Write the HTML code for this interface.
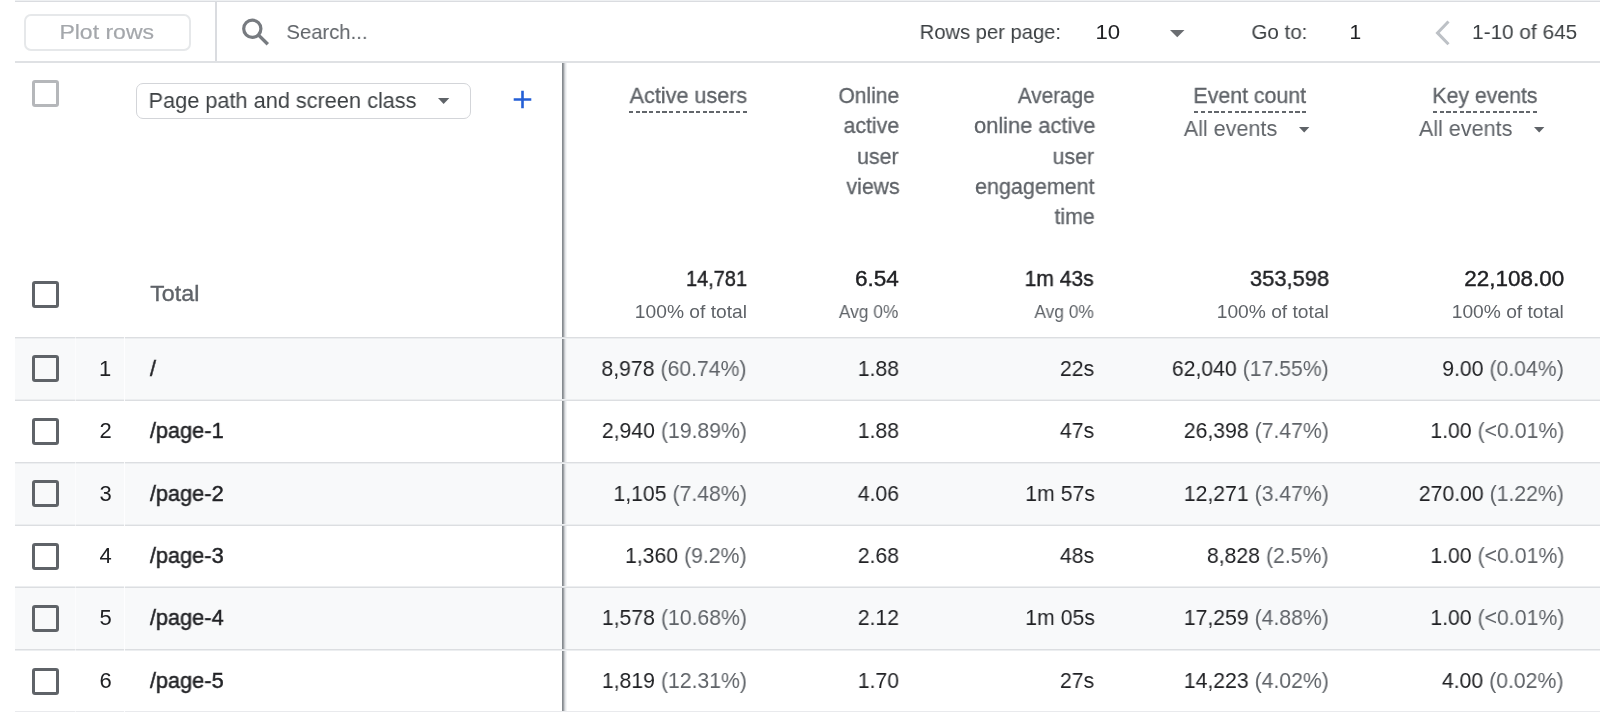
<!DOCTYPE html>
<html><head><meta charset="utf-8"><title>Pages and screens</title><style>
html,body{margin:0;padding:0;background:#fff;}
body{width:1600px;height:712px;position:relative;overflow:hidden;font-family:"Liberation Sans", sans-serif;}
.t{position:absolute;white-space:pre;font-family:"Liberation Sans", sans-serif;will-change:transform;}
.g{color:#5f6368;-webkit-text-stroke:0 !important;}
.bg{position:absolute;left:15px;right:0;background:#f8f9fa;}
.hl{position:absolute;left:15px;right:0;height:1px;z-index:2;}
.cb{position:absolute;width:21px;height:21px;border:3px solid #5f6368;border-radius:3px;box-sizing:content-box;}
.ic{position:absolute;overflow:visible;}
.vs{position:absolute;width:1px;background:#fff;z-index:3;}
#top0{position:absolute;left:15px;right:0;top:0;height:1px;background:#eef0f2;}
#top1{position:absolute;left:15px;right:0;top:1px;height:1px;background:#dadce0;}
#tb{position:absolute;left:15px;right:0;top:61px;height:2px;background:#dfe1e4;}
#vd{position:absolute;left:215px;top:2px;width:2px;height:59px;background:#dadce0;}
#plot{position:absolute;left:24px;top:14px;width:163px;height:33px;border:2px solid #e6e8ea;border-radius:7px;}
#dd{position:absolute;left:136px;top:83px;width:333px;height:34px;border:1px solid #d3d5d9;border-radius:7px;}
#col{position:absolute;left:562px;top:63px;width:5px;height:649px;z-index:1;background:linear-gradient(to right,#858a8f 0 1px,#9da1a5 1px 2px,#c9cbce 2px 3px,#e4e6e9 3px 4px,#f3f4f5 4px 5px);}

.dash{position:absolute;height:2px;}
</style></head><body>
<div id="top0"></div><div id="top1"></div>
<div class='bg' style='top:338px;height:62px'></div><div class='bg' style='top:463px;height:62px'></div><div class='bg' style='top:588px;height:62px'></div><div class='hl' style='top:337px;background:#dcdee1'></div><div class='hl' style='top:400px;background:#dcdee1'></div><div class='hl' style='top:462px;background:#dcdee1'></div><div class='hl' style='top:525px;background:#dcdee1'></div><div class='hl' style='top:587px;background:#dcdee1'></div><div class='hl' style='top:649px;background:#dcdee1'></div><div class='hl' style='top:338px;background:#eceef0'></div><div class='hl' style='top:399px;background:#eceef0'></div><div class='hl' style='top:463px;background:#eceef0'></div><div class='hl' style='top:524px;background:#eceef0'></div><div class='hl' style='top:586px;background:#eceef0'></div><div class='hl' style='top:650px;background:#eceef0'></div><div class='hl' style='top:711px;background:#e9eaed'></div>
<div id="tb"></div><div id="vd"></div>
<div id="plot"></div><div id="dd"></div>
<div id="col"></div>
<div class="dash" style="left:628.9px;width:118.10px;top:111px;background:repeating-linear-gradient(to right,#62666b 0 4.3px,rgba(255,255,255,0) 4.3px 6.694px)"></div>
<div class="dash" style="left:1193.6px;width:112.40px;top:111px;background:repeating-linear-gradient(to right,#62666b 0 4.3px,rgba(255,255,255,0) 4.3px 6.756px)"></div>
<div class="dash" style="left:1433px;width:104.00px;top:111px;background:repeating-linear-gradient(to right,#62666b 0 4.3px,rgba(255,255,255,0) 4.3px 6.647px)"></div>
<div class='vs' style='left:124px;top:337px;height:375px;opacity:.85'></div><div class='vs' style='left:75px;top:337px;height:375px;opacity:.5'></div>
<div class='cb' style='left:31.5px;top:80px;border-color:#b5b7ba'></div><div class='cb' style='left:31.5px;top:281px;border-color:#5f6368'></div><div class='cb' style='left:31.5px;top:355px;border-color:#5f6368'></div><div class='cb' style='left:31.5px;top:418px;border-color:#5f6368'></div><div class='cb' style='left:31.5px;top:480px;border-color:#5f6368'></div><div class='cb' style='left:31.5px;top:543px;border-color:#5f6368'></div><div class='cb' style='left:31.5px;top:605px;border-color:#5f6368'></div><div class='cb' style='left:31.5px;top:668px;border-color:#5f6368'></div>
<svg class='ic' style='left:1169.8px;top:29.8px' width='14.5' height='7.3' viewBox='0 0 14.5 7.3'><path d='M0 0H14.5L7.25 7.3Z' fill='#6a6d71'/></svg><svg class='ic' style='left:437.6px;top:97.8px' width='11.3' height='6' viewBox='0 0 11.3 6'><path d='M0 0H11.3L5.65 6Z' fill='#5f6368'/></svg><svg class='ic' style='left:1298.8px;top:127px' width='10.4' height='5.6' viewBox='0 0 10.4 5.6'><path d='M0 0H10.4L5.2 5.6Z' fill='#5f6368'/></svg><svg class='ic' style='left:1533.6px;top:127px' width='10.4' height='5.6' viewBox='0 0 10.4 5.6'><path d='M0 0H10.4L5.2 5.6Z' fill='#5f6368'/></svg><svg class='ic' style='left:240px;top:16px' width='31' height='31' viewBox='0 0 31 31'><circle cx='12.3' cy='12.8' r='8.6' fill='none' stroke='#777b80' stroke-width='3.2'/><path d='M18.6 19.1L27.8 28.3' stroke='#777b80' stroke-width='3.4'/></svg><svg class='ic' style='left:1433px;top:19px' width='20' height='28' viewBox='0 0 20 28'><path d='M15.5 2.5L4.5 13.9L15.5 25.3' fill='none' stroke='#bdc1c6' stroke-width='3'/></svg><svg class='ic' style='left:512px;top:89px' width='21' height='21' viewBox='0 0 21 21'><path d='M10.5 1.7V19.3M1.7 10.5H19.3' stroke='#245fd6' stroke-width='2.6'/></svg>
<div class='t' style='left:59px;top:21px;font-size:21px;line-height:21px;color:#a4a7ab;-webkit-text-stroke:0.2px #a4a7ab;transform:translateX(0.41px) scaleX(1.0952);transform-origin:0 0;'>Plot rows</div><div class='t' style='left:286px;top:21px;font-size:21px;line-height:21px;color:#5f6368;transform:translateX(0.43px) scaleX(0.9654);transform-origin:0 0;'>Search...</div><div class='t' style='left:919px;top:21px;font-size:21px;line-height:21px;color:#3c4043;transform:translateX(0.68px) scaleX(0.9608);transform-origin:0 0;'>Rows per page:</div><div class='t' style='left:1095px;top:21px;font-size:21px;line-height:21px;color:#202124;transform:translateX(0.49px) scaleX(1.0571);transform-origin:0 0;'>10</div><div class='t' style='left:1251px;top:21px;font-size:21px;line-height:21px;color:#3c4043;transform:translateX(0.42px) scaleX(0.9796);transform-origin:0 0;'>Go to:</div><div class='t' style='left:1349px;top:21px;font-size:21px;line-height:21px;color:#202124;transform:translateX(0.50px) scaleX(1.0000);transform-origin:0 0;'>1</div><div class='t' style='left:1472px;top:21px;font-size:21px;line-height:21px;color:#3c4043;transform:translateX(0.02px) scaleX(0.9903);transform-origin:0 0;'>1-10 of 645</div><div class='t' style='left:148px;top:90px;font-size:22px;line-height:22px;color:#3c4043;transform:translateX(0.53px) scaleX(0.9870);transform-origin:0 0;'>Page path and screen class</div><div class='t' style='left:629px;top:85px;font-size:22px;line-height:22px;color:#5f6368;-webkit-text-stroke:0.3px #5f6368;transform:translateX(0.60px) scaleX(0.9815);transform-origin:0 0;'>Active users</div><div class='t' style='left:838px;top:85px;font-size:22px;line-height:22px;color:#5f6368;-webkit-text-stroke:0.3px #5f6368;transform:translateX(0.44px) scaleX(0.9565);transform-origin:0 0;'>Online</div><div class='t' style='left:843px;top:115px;font-size:22px;line-height:22px;color:#5f6368;-webkit-text-stroke:0.3px #5f6368;transform:translateX(0.55px) scaleX(0.9675);transform-origin:0 0;'>active</div><div class='t' style='left:857px;top:146px;font-size:22px;line-height:22px;color:#5f6368;-webkit-text-stroke:0.3px #5f6368;transform:translateX(0.10px) scaleX(0.9675);transform-origin:0 0;'>user</div><div class='t' style='left:846px;top:176px;font-size:22px;line-height:22px;color:#5f6368;-webkit-text-stroke:0.3px #5f6368;transform:translateX(0.46px) scaleX(0.9675);transform-origin:0 0;'>views</div><div class='t' style='left:1017px;top:85px;font-size:22px;line-height:22px;color:#5f6368;-webkit-text-stroke:0.3px #5f6368;transform:translateX(0.80px) scaleX(0.9432);transform-origin:0 0;'>Average</div><div class='t' style='left:974px;top:115px;font-size:22px;line-height:22px;color:#5f6368;-webkit-text-stroke:0.3px #5f6368;transform:translateX(0.01px) scaleX(0.9933);transform-origin:0 0;'>online active</div><div class='t' style='left:1052px;top:146px;font-size:22px;line-height:22px;color:#5f6368;-webkit-text-stroke:0.3px #5f6368;transform:translateX(0.60px) scaleX(0.9675);transform-origin:0 0;'>user</div><div class='t' style='left:975px;top:176px;font-size:22px;line-height:22px;color:#5f6368;-webkit-text-stroke:0.3px #5f6368;transform:translateX(0.02px) scaleX(0.9769);transform-origin:0 0;'>engagement</div><div class='t' style='left:1054px;top:206px;font-size:22px;line-height:22px;color:#5f6368;-webkit-text-stroke:0.3px #5f6368;transform:translateX(0.53px) scaleX(0.9675);transform-origin:0 0;'>time</div><div class='t' style='left:1193px;top:85px;font-size:22px;line-height:22px;color:#5f6368;-webkit-text-stroke:0.3px #5f6368;transform:translateX(0.36px) scaleX(0.9711);transform-origin:0 0;'>Event count</div><div class='t' style='left:1183px;top:118px;font-size:22px;line-height:22px;color:#5f6368;transform:translateX(0.80px) scaleX(0.9789);transform-origin:0 0;'>All events</div><div class='t' style='left:1432px;top:85px;font-size:22px;line-height:22px;color:#5f6368;-webkit-text-stroke:0.3px #5f6368;transform:translateX(0.37px) scaleX(0.9660);transform-origin:0 0;'>Key events</div><div class='t' style='left:1418px;top:118px;font-size:22px;line-height:22px;color:#5f6368;transform:translateX(0.90px) scaleX(0.9800);transform-origin:0 0;'>All events</div><div class='t' style='left:150px;top:283px;font-size:22px;line-height:22px;color:#5f6368;-webkit-text-stroke:0.35px #5f6368;transform:translateX(0.25px) scaleX(1.0556);transform-origin:0 0;'>Total</div><div class='t' style='left:685px;top:268px;font-size:22px;line-height:22px;color:#202124;-webkit-text-stroke:0.4px #202124;transform:translateX(0.99px) scaleX(0.9077);transform-origin:0 0;'>14,781</div><div class='t' style='left:854px;top:268px;font-size:22px;line-height:22px;color:#202124;-webkit-text-stroke:0.4px #202124;transform:translateX(0.88px) scaleX(1.0244);transform-origin:0 0;'>6.54</div><div class='t' style='left:1024px;top:268px;font-size:22px;line-height:22px;color:#202124;-webkit-text-stroke:0.4px #202124;transform:translateX(0.65px) scaleX(0.9549);transform-origin:0 0;'>1m 43s</div><div class='t' style='left:1249px;top:268px;font-size:22px;line-height:22px;color:#202124;-webkit-text-stroke:0.4px #202124;transform:translateX(0.90px) scaleX(0.9974);transform-origin:0 0;'>353,598</div><div class='t' style='left:1464px;top:268px;font-size:22px;line-height:22px;color:#202124;-webkit-text-stroke:0.4px #202124;transform:translateX(0.28px) scaleX(1.0208);transform-origin:0 0;'>22,108.00</div><div class='t' style='left:634px;top:303px;font-size:18.5px;line-height:18.5px;color:#5f6368;transform:translateX(0.86px) scaleX(1.0377);transform-origin:0 0;'>100% of total</div><div class='t' style='left:838px;top:303px;font-size:18.5px;line-height:18.5px;color:#5f6368;transform:translateX(0.90px) scaleX(0.9365);transform-origin:0 0;'>Avg 0%</div><div class='t' style='left:1034px;top:303px;font-size:18.5px;line-height:18.5px;color:#5f6368;transform:translateX(0.40px) scaleX(0.9365);transform-origin:0 0;'>Avg 0%</div><div class='t' style='left:1216px;top:303px;font-size:18.5px;line-height:18.5px;color:#5f6368;transform:translateX(0.76px) scaleX(1.0377);transform-origin:0 0;'>100% of total</div><div class='t' style='left:1451px;top:303px;font-size:18.5px;line-height:18.5px;color:#5f6368;transform:translateX(0.76px) scaleX(1.0377);transform-origin:0 0;'>100% of total</div><div class='t' style='left:99px;top:358px;font-size:22px;line-height:22px;color:#202124;transform:translateX(0.10px) scaleX(1.0000);transform-origin:0 0;'>1</div><div class='t' style='left:149px;top:358px;font-size:22px;line-height:22px;color:#202124;-webkit-text-stroke:0.45px #202124;transform:translateX(0.90px) scaleX(0.9878);transform-origin:0 0;'>/</div><div class='t' style='left:601px;top:358px;font-size:22px;line-height:22px;color:#202124;transform:translateX(0.44px) scaleX(0.9646);transform-origin:0 0;'>8,978 <span class='g'>(60.74%)</span></div><div class='t' style='left:857px;top:358px;font-size:22px;line-height:22px;color:#202124;transform:translateX(0.79px) scaleX(0.9646);transform-origin:0 0;'>1.88</div><div class='t' style='left:1059px;top:358px;font-size:22px;line-height:22px;color:#202124;transform:translateX(0.94px) scaleX(0.9646);transform-origin:0 0;'>22s</div><div class='t' style='left:1171px;top:358px;font-size:22px;line-height:22px;color:#202124;transform:translateX(0.84px) scaleX(0.9646);transform-origin:0 0;'>62,040 <span class='g'>(17.55%)</span></div><div class='t' style='left:1442px;top:358px;font-size:22px;line-height:22px;color:#202124;transform:translateX(0.24px) scaleX(0.9646);transform-origin:0 0;'>9.00 <span class='g'>(0.04%)</span></div><div class='t' style='left:99px;top:420px;font-size:22px;line-height:22px;color:#202124;transform:translateX(0.60px) scaleX(1.0000);transform-origin:0 0;'>2</div><div class='t' style='left:149px;top:420px;font-size:22px;line-height:22px;color:#202124;-webkit-text-stroke:0.45px #202124;transform:translateX(0.90px) scaleX(0.9878);transform-origin:0 0;'>/page-1</div><div class='t' style='left:601px;top:420px;font-size:22px;line-height:22px;color:#202124;transform:translateX(0.88px) scaleX(0.9646);transform-origin:0 0;'>2,940 <span class='g'>(19.89%)</span></div><div class='t' style='left:857px;top:420px;font-size:22px;line-height:22px;color:#202124;transform:translateX(0.79px) scaleX(0.9646);transform-origin:0 0;'>1.88</div><div class='t' style='left:1059px;top:420px;font-size:22px;line-height:22px;color:#202124;transform:translateX(0.94px) scaleX(0.9646);transform-origin:0 0;'>47s</div><div class='t' style='left:1183px;top:420px;font-size:22px;line-height:22px;color:#202124;transform:translateX(0.78px) scaleX(0.9646);transform-origin:0 0;'>26,398 <span class='g'>(7.47%)</span></div><div class='t' style='left:1430px;top:420px;font-size:22px;line-height:22px;color:#202124;transform:translateX(0.36px) scaleX(0.9646);transform-origin:0 0;'>1.00 <span class='g'>(&lt;0.01%)</span></div><div class='t' style='left:99px;top:483px;font-size:22px;line-height:22px;color:#202124;transform:translateX(0.60px) scaleX(1.0000);transform-origin:0 0;'>3</div><div class='t' style='left:149px;top:483px;font-size:22px;line-height:22px;color:#202124;-webkit-text-stroke:0.45px #202124;transform:translateX(0.90px) scaleX(0.9878);transform-origin:0 0;'>/page-2</div><div class='t' style='left:613px;top:483px;font-size:22px;line-height:22px;color:#202124;transform:translateX(0.46px) scaleX(0.9646);transform-origin:0 0;'>1,105 <span class='g'>(7.48%)</span></div><div class='t' style='left:857px;top:483px;font-size:22px;line-height:22px;color:#202124;transform:translateX(0.79px) scaleX(0.9646);transform-origin:0 0;'>4.06</div><div class='t' style='left:1025px;top:483px;font-size:22px;line-height:22px;color:#202124;transform:translateX(0.22px) scaleX(0.9646);transform-origin:0 0;'>1m 57s</div><div class='t' style='left:1183px;top:483px;font-size:22px;line-height:22px;color:#202124;transform:translateX(0.78px) scaleX(0.9646);transform-origin:0 0;'>12,271 <span class='g'>(3.47%)</span></div><div class='t' style='left:1418px;top:483px;font-size:22px;line-height:22px;color:#202124;transform:translateX(0.78px) scaleX(0.9646);transform-origin:0 0;'>270.00 <span class='g'>(1.22%)</span></div><div class='t' style='left:99px;top:545px;font-size:22px;line-height:22px;color:#202124;transform:translateX(0.60px) scaleX(1.0000);transform-origin:0 0;'>4</div><div class='t' style='left:149px;top:545px;font-size:22px;line-height:22px;color:#202124;-webkit-text-stroke:0.45px #202124;transform:translateX(0.90px) scaleX(0.9878);transform-origin:0 0;'>/page-3</div><div class='t' style='left:625px;top:545px;font-size:22px;line-height:22px;color:#202124;transform:translateX(0.03px) scaleX(0.9646);transform-origin:0 0;'>1,360 <span class='g'>(9.2%)</span></div><div class='t' style='left:857px;top:545px;font-size:22px;line-height:22px;color:#202124;transform:translateX(0.79px) scaleX(0.9646);transform-origin:0 0;'>2.68</div><div class='t' style='left:1059px;top:545px;font-size:22px;line-height:22px;color:#202124;transform:translateX(0.94px) scaleX(0.9646);transform-origin:0 0;'>48s</div><div class='t' style='left:1206px;top:545px;font-size:22px;line-height:22px;color:#202124;transform:translateX(0.93px) scaleX(0.9646);transform-origin:0 0;'>8,828 <span class='g'>(2.5%)</span></div><div class='t' style='left:1430px;top:545px;font-size:22px;line-height:22px;color:#202124;transform:translateX(0.36px) scaleX(0.9646);transform-origin:0 0;'>1.00 <span class='g'>(&lt;0.01%)</span></div><div class='t' style='left:99px;top:607px;font-size:22px;line-height:22px;color:#202124;transform:translateX(0.60px) scaleX(1.0000);transform-origin:0 0;'>5</div><div class='t' style='left:149px;top:607px;font-size:22px;line-height:22px;color:#202124;-webkit-text-stroke:0.45px #202124;transform:translateX(0.90px) scaleX(0.9878);transform-origin:0 0;'>/page-4</div><div class='t' style='left:601px;top:607px;font-size:22px;line-height:22px;color:#202124;transform:translateX(0.88px) scaleX(0.9646);transform-origin:0 0;'>1,578 <span class='g'>(10.68%)</span></div><div class='t' style='left:857px;top:607px;font-size:22px;line-height:22px;color:#202124;transform:translateX(0.79px) scaleX(0.9646);transform-origin:0 0;'>2.12</div><div class='t' style='left:1025px;top:607px;font-size:22px;line-height:22px;color:#202124;transform:translateX(0.22px) scaleX(0.9646);transform-origin:0 0;'>1m 05s</div><div class='t' style='left:1183px;top:607px;font-size:22px;line-height:22px;color:#202124;transform:translateX(0.78px) scaleX(0.9646);transform-origin:0 0;'>17,259 <span class='g'>(4.88%)</span></div><div class='t' style='left:1430px;top:607px;font-size:22px;line-height:22px;color:#202124;transform:translateX(0.36px) scaleX(0.9646);transform-origin:0 0;'>1.00 <span class='g'>(&lt;0.01%)</span></div><div class='t' style='left:99px;top:670px;font-size:22px;line-height:22px;color:#202124;transform:translateX(0.60px) scaleX(1.0000);transform-origin:0 0;'>6</div><div class='t' style='left:149px;top:670px;font-size:22px;line-height:22px;color:#202124;-webkit-text-stroke:0.45px #202124;transform:translateX(0.90px) scaleX(0.9878);transform-origin:0 0;'>/page-5</div><div class='t' style='left:601px;top:670px;font-size:22px;line-height:22px;color:#202124;transform:translateX(0.88px) scaleX(0.9646);transform-origin:0 0;'>1,819 <span class='g'>(12.31%)</span></div><div class='t' style='left:857px;top:670px;font-size:22px;line-height:22px;color:#202124;transform:translateX(0.79px) scaleX(0.9646);transform-origin:0 0;'>1.70</div><div class='t' style='left:1059px;top:670px;font-size:22px;line-height:22px;color:#202124;transform:translateX(0.94px) scaleX(0.9646);transform-origin:0 0;'>27s</div><div class='t' style='left:1183px;top:670px;font-size:22px;line-height:22px;color:#202124;transform:translateX(0.78px) scaleX(0.9646);transform-origin:0 0;'>14,223 <span class='g'>(4.02%)</span></div><div class='t' style='left:1441px;top:670px;font-size:22px;line-height:22px;color:#202124;transform:translateX(0.93px) scaleX(0.9646);transform-origin:0 0;'>4.00 <span class='g'>(0.02%)</span></div>
</body></html>
